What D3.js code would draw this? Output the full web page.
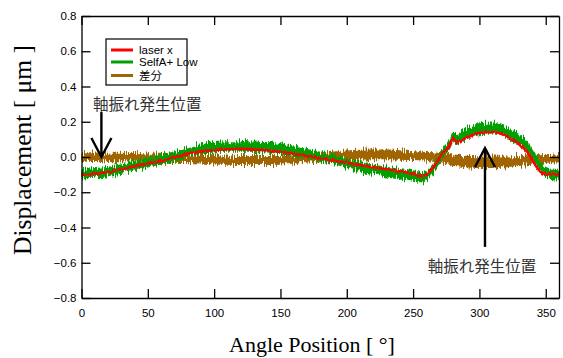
<!DOCTYPE html>
<html><head><meta charset="utf-8">
<script src="https://cdn.jsdelivr.net/npm/d3@7"></script>
<style>
body{margin:0;background:#fff;}
text{font-family:"Liberation Sans",Arial,sans-serif;}
</style></head>
<body>
<script>
// ---- data ----
const angles = [0,10,20,30,40,50,60,70,80,90,100,110,120,130,140,150,160,170,180,190,200,210,220,230,240,250,
  257,265,272,278,280,283,288,295,300,310,318,328,336,343,348,355,360];
const laserX = [-0.100,-0.095,-0.085,-0.070,-0.052,-0.037,-0.022,-0.003,0.018,0.032,0.040,0.044,0.045,0.042,0.038,0.028,0.018,0.006,-0.007,-0.020,-0.033,-0.046,-0.058,-0.070,-0.082,-0.097,
  -0.110,-0.060,0.020,0.070,0.108,0.082,0.100,0.125,0.138,0.142,0.128,0.082,0.030,-0.055,-0.093,-0.097,-0.097];
const selfALow = [-0.095,-0.090,-0.082,-0.068,-0.050,-0.033,-0.015,0.005,0.028,0.045,0.055,0.060,0.060,0.058,0.055,0.045,0.032,0.018,0.003,-0.014,-0.035,-0.055,-0.070,-0.083,-0.095,-0.108,
  -0.118,-0.070,0.020,0.080,0.115,0.100,0.125,0.148,0.160,0.165,0.150,0.110,0.060,-0.020,-0.075,-0.100,-0.100];
const diff = [0.003,0.002,0.000,0.000,-0.002,-0.004,-0.006,-0.008,-0.010,-0.013,-0.016,-0.018,-0.020,-0.020,-0.020,-0.018,-0.014,-0.008,0.000,0.006,0.010,0.013,0.015,0.015,0.012,0.008,
  0.005,0.000,-0.008,-0.015,-0.018,-0.020,-0.024,-0.028,-0.030,-0.030,-0.028,-0.024,-0.020,-0.016,-0.014,-0.012,-0.010];
// noise half-width of each trace (µm)
const selfASpread = [0.027,0.027,0.027,0.027,0.027,0.027,0.027,0.027,0.027,0.028,0.030,0.030,0.030,0.030,0.030,0.028,0.027,0.027,0.027,0.027,0.027,0.027,0.027,0.027,0.027,0.027,
  0.027,0.027,0.028,0.030,0.030,0.030,0.031,0.031,0.031,0.031,0.030,0.029,0.028,0.027,0.027,0.027,0.027];
const diffSpread = [0.024,0.024,0.024,0.024,0.024,0.024,0.024,0.024,0.024,0.024,0.026,0.026,0.026,0.026,0.026,0.024,0.024,0.024,0.024,0.025,0.027,0.028,0.028,0.028,0.027,0.025,
  0.025,0.027,0.029,0.031,0.033,0.033,0.033,0.033,0.033,0.033,0.031,0.029,0.027,0.025,0.025,0.025,0.025];
const xTicks = [0,50,100,150,200,250,300,350];
const yTicks = [-0.8,-0.6,-0.4,-0.2,0.0,0.2,0.4,0.6,0.8];
const seriesNames = ["laser x","SelfA+ Low","差分"];
const seriesColors = ["#ff0000","#00a000","#a06400"];
const annotationText = "軸振れ発生位置";

// ---- chart ----
const W = 563, H = 358;
const svg = d3.select("body").append("svg").attr("width", W).attr("height", H);
const x = d3.scaleLinear().domain([0,360]).range([81.5,559]);
const y = d3.scaleLinear().domain([-0.8,0.8]).range([298,16]);

const defs = svg.append("defs");
function fuzz(id, freq, scale, seed){
  const f = defs.append("filter").attr("id", id).attr("filterUnits","userSpaceOnUse")
    .attr("x",0).attr("y",0).attr("width",W).attr("height",H)
    .attr("color-interpolation-filters","sRGB");
  f.append("feTurbulence").attr("type","fractalNoise").attr("baseFrequency",freq)
    .attr("numOctaves",2).attr("seed",seed).attr("result","t");
  f.append("feColorMatrix").attr("in","t").attr("type","matrix")
    .attr("values","1 0 0 0 0  0 0 0 0 0.5  0 0 0 0 0  0 0 0 0 1").attr("result","m");
  f.append("feDisplacementMap").attr("in","SourceGraphic").attr("in2","m")
    .attr("scale",scale).attr("xChannelSelector","G").attr("yChannelSelector","R");
}
fuzz("fz1","0.9 0.06",12,3);
fuzz("fz2","0.9 0.06",12,7);
fuzz("fz3","0.9 0.06",4,11);

const pts = angles.map((a,i)=>({a, r:laserX[i], g:selfALow[i], d:diff[i], gs:selfASpread[i], ds:diffSpread[i]}));
const curve = d3.curveMonotoneX;

// diff band
svg.append("path").datum(pts)
  .attr("d", d3.area().x(p=>x(p.a)).y0(p=>y(p.d-p.ds)).y1(p=>y(p.d+p.ds)).curve(curve))
  .attr("fill", seriesColors[2]).attr("filter","url(#fz1)");
// SelfA band
svg.append("path").datum(pts)
  .attr("d", d3.area().x(p=>x(p.a)).y0(p=>y(p.g-p.gs)).y1(p=>y(p.g+p.gs)).curve(curve))
  .attr("fill", seriesColors[1]).attr("filter","url(#fz2)");
// laser x
svg.append("path").datum(pts)
  .attr("d", d3.line().x(p=>x(p.a)).y(p=>y(p.r)).curve(curve))
  .attr("fill","none").attr("stroke", seriesColors[0]).attr("stroke-width",2.6).attr("filter","url(#fz3)");

// axes
const axG = svg.append("g");
function styleAxis(g){
  g.selectAll(".domain").attr("stroke","#000").attr("stroke-width",1.3);
  g.selectAll(".tick line").attr("stroke","#000").attr("stroke-width",1.3);
  g.selectAll("text").attr("fill","#000").attr("font-size",11.5).attr("font-family","Liberation Sans, Arial, sans-serif");
}
axG.append("g").attr("transform","translate(0,298)")
  .call(d3.axisBottom(x).tickValues(xTicks).tickSize(-9).tickSizeOuter(0).tickPadding(11))
  .call(styleAxis);
axG.append("g").attr("transform","translate(0,16)")
  .call(d3.axisTop(x).tickValues(xTicks).tickSize(-9).tickSizeOuter(0).tickFormat(""))
  .call(styleAxis);
axG.append("g").attr("transform","translate(81.5,0)")
  .call(d3.axisLeft(y).tickValues(yTicks).tickSize(-9).tickSizeOuter(0).tickPadding(5).tickFormat(d3.format(".1f")))
  .call(styleAxis);
axG.append("g").attr("transform","translate(559,0)")
  .call(d3.axisRight(y).tickValues(yTicks).tickSize(-9).tickSizeOuter(0).tickFormat(""))
  .call(styleAxis);

// axis titles
svg.append("text").attr("x",312).attr("y",352).attr("text-anchor","middle")
  .style("font-family","'Liberation Serif','Times New Roman',serif").attr("font-size",22)
  .text("Angle Position [  °]");
svg.append("text").attr("transform","translate(31,150) rotate(-90)").attr("text-anchor","middle")
  .style("font-family","'Liberation Serif','Times New Roman',serif").attr("font-size",25.5)
  .text("Displacement [ μm ]");

// legend
const lg = svg.append("g");
lg.append("rect").attr("x",106).attr("y",39).attr("width",81).attr("height",46)
  .attr("fill","#fff").attr("stroke","#000").attr("stroke-width",1.2);
seriesNames.forEach((n,i)=>{
  const yy = [50,62,75.5][i];
  lg.append("line").attr("x1",111).attr("x2",133).attr("y1",yy).attr("y2",yy)
    .attr("stroke",seriesColors[i]).attr("stroke-width",3);
  lg.append("text").attr("x",139).attr("y",yy).attr("dy","0.35em").attr("font-size",11.5)
    .style("font-family", i===2 ? "'Noto Sans CJK JP',sans-serif" : "'Liberation Sans',Arial,sans-serif")
    .text(n);
});

// annotations
function arrow(a, vFrom, vTo){
  const ax = x(a), y0 = y(vFrom), y1 = y(vTo);
  const dir = Math.sign(y1 - y0);
  svg.append("line").attr("x1",ax).attr("x2",ax).attr("y1",y0).attr("y2",y1-dir*1)
    .attr("stroke","#000").attr("stroke-width",2.4);
  svg.append("path").attr("d",`M${ax-10},${y1-dir*19}L${ax},${y1}L${ax+10},${y1-dir*19}`)
    .attr("fill","none").attr("stroke","#000").attr("stroke-width",2.4);
}
arrow(15, 0.255, 0.0);
arrow(304.2, -0.51, 0.051);
const annFont = "'Noto Sans CJK JP',sans-serif";
svg.append("text").attr("x",x(8.6)).attr("y",y(0.297)).attr("dy","0.35em").attr("font-size",15.5)
  .style("font-family",annFont).attr("fill","#333").text(annotationText);
svg.append("text").attr("x",x(261)).attr("y",y(-0.62)).attr("dy","0.35em").attr("font-size",15.5)
  .style("font-family",annFont).attr("fill","#333").text(annotationText);
</script>
</body></html>
